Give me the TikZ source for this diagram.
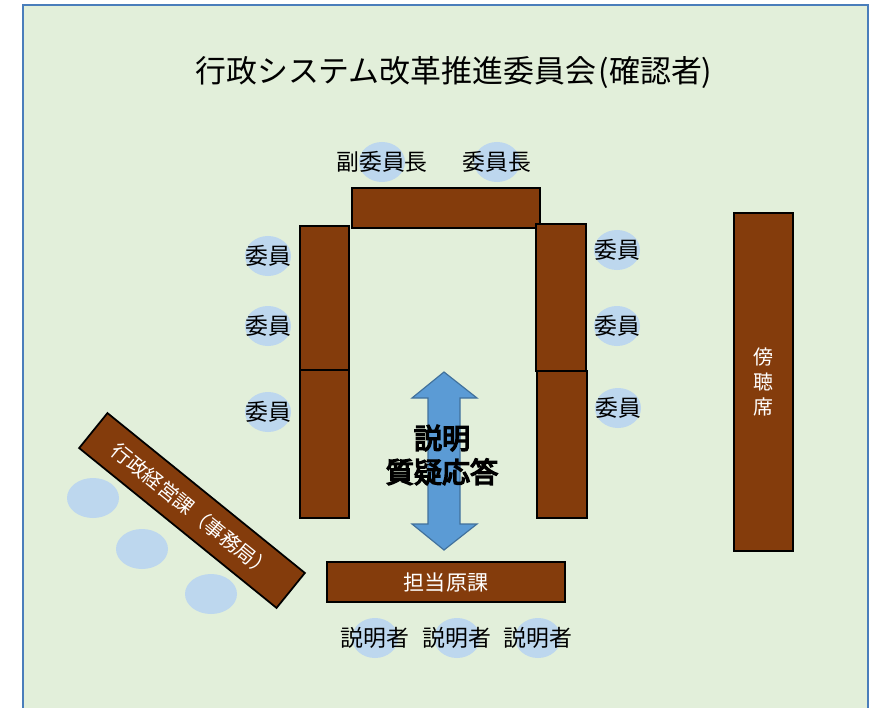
\documentclass[tikz,border=0pt]{standalone}
\usepackage{fontspec}
\setmainfont{Noto Sans CJK JP}
\newfontfamily\jpbold[FakeBold=5]{Noto Sans CJK JP}
\usepackage{tikz}
\usetikzlibrary{shapes.geometric}
\definecolor{panelgreen}{HTML}{E2EFDA}
\definecolor{panelline}{HTML}{4A7EBB}
\definecolor{deskbrown}{HTML}{843C0C}
\definecolor{seatblue}{HTML}{BDD7EE}
\definecolor{arrowblue}{HTML}{5B9BD5}
\definecolor{arrowline}{HTML}{41719C}

\begin{document}
\begin{tikzpicture}[x=0.03cm,y=-0.03cm,
    desk/.style={draw=black,line width=1.5pt,fill=deskbrown,text=white,inner sep=0pt,
        font=\fontsize{18}{22}\selectfont},
    who/.style={inner sep=0pt,font=\fontsize{19.5}{23}\selectfont},
    seat/.style={ellipse,fill=seatblue,minimum width=1.38cm,minimum height=1.2cm,
        inner sep=0pt,label={[who]center:#1}},
    spare/.style={ellipse,fill=seatblue,minimum width=1.56cm,minimum height=1.2cm,inner sep=0pt}]
            \useasboundingbox (0,0) rectangle (874,708);
            \begin{scope}
            \clip (0,0) rectangle (874,708);
            \draw [panelline,line width=1.7pt,fill=panelgreen](23,5) rectangle (868,740);
            \end{scope}
            \node [inner sep=0pt,font=\fontsize{26.4}{30}\selectfont] (title) at (455,73)
                {行政システム改革推進委員会\kern2pt(確認者)\kern2pt};
            % seats round the committee tables
            \node [seat=副委員長] (vchair) at (382,162) {};
            \node [seat=委員長] (chair) at (497,162) {};
            \node [seat=委員] (ml1) at (268,256) {};
            \node [seat=委員] (ml2) at (268,326) {};
            \node [seat=委員] (ml3) at (268,412) {};
            \node [seat=委員] (mr1) at (617,250) {};
            \node [seat=委員] (mr2) at (617,326) {};
            \node [seat=委員] (mr3) at (618,408) {};
            \node [seat=説明者] (ex1) at (375,638) {};
            \node [seat=説明者] (ex2) at (457,638) {};
            \node [seat=説明者] (ex3) at (538,638) {};
            \node [spare] (sec1) at (93,498) {};
            \node [spare] (sec2) at (142,549) {};
            \node [spare] (sec3) at (211,594) {};
            % tables
            \node [desk,minimum width=5.64cm,minimum height=1.2cm] (top) at (446,208) {};
            \node [desk,minimum width=1.47cm,minimum height=4.32cm] (left1) at (324.5,298) {};
            \node [desk,minimum width=1.47cm,minimum height=4.44cm] (left2) at (324.5,444) {};
            \node [desk,minimum width=1.5cm,minimum height=4.41cm] (right1) at (561,297.5) {};
            \node [desk,minimum width=1.5cm,minimum height=4.41cm] (right2) at (562,444.5) {};
            \node [desk,minimum width=1.77cm,minimum height=10.14cm,align=center,
                font=\fontsize{17}{21}\selectfont] (public) at (763.5,382) {傍\\聴\\席};
            \node [desk,minimum width=7.14cm,minimum height=1.2cm] (dept) at (446,582) {担当原課};
            \node [desk,rotate=-39,minimum width=7.62cm,minimum height=1.35cm,
                font=\fontsize{17}{20}\selectfont] (office) at (192,510.5) {行政経営課（事務局）};
            % block arrow
            \draw [arrowline,fill=arrowblue,line width=1pt](444,372)--(477,398)--(460,398)--(460,524)
                --(477,524)--(444,550)--(412,524)--(428,524)--(428,398)--(412,398)--cycle;
            \node [align=center,font=\jpbold\fontsize{24}{29}\selectfont] (qa) at (442,455) {説明\\質疑応答};
            \end{tikzpicture}
\end{document}
